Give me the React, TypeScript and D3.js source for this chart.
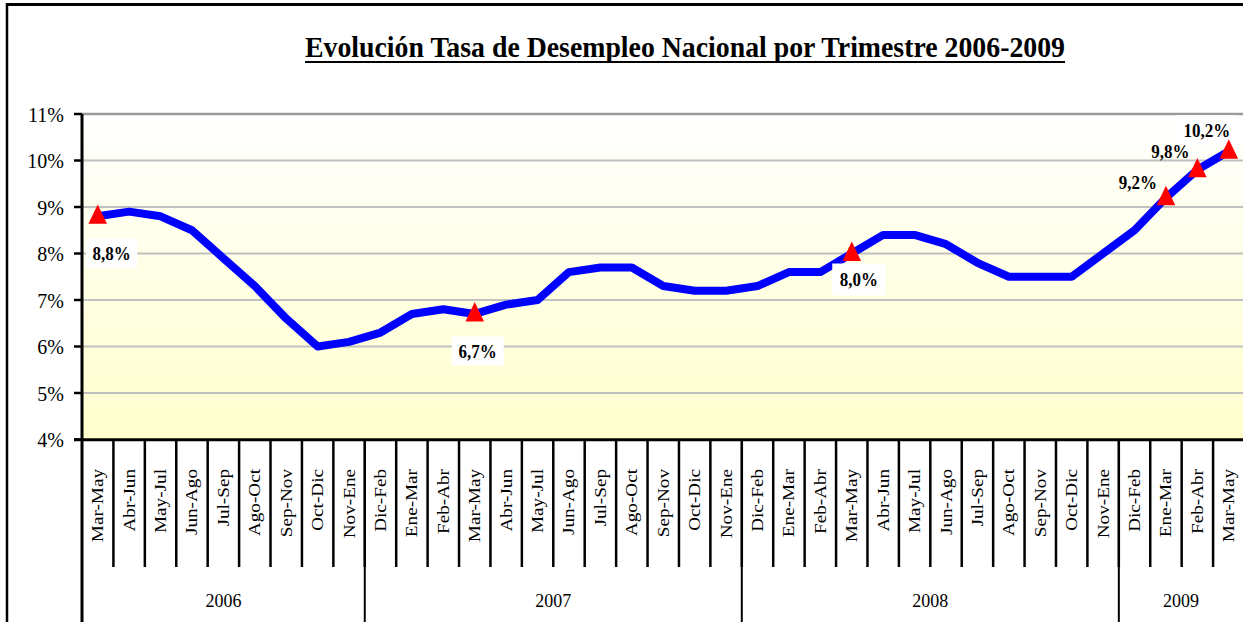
import React from "react";
import * as d3 from "d3";

const categories = [
  "Mar-May", "Abr-Jun", "May-Jul", "Jun-Ago", "Jul-Sep", "Ago-Oct", "Sep-Nov", "Oct-Dic", "Nov-Ene",
  "Dic-Feb", "Ene-Mar", "Feb-Abr", "Mar-May", "Abr-Jun", "May-Jul", "Jun-Ago", "Jul-Sep", "Ago-Oct", "Sep-Nov", "Oct-Dic", "Nov-Ene",
  "Dic-Feb", "Ene-Mar", "Feb-Abr", "Mar-May", "Abr-Jun", "May-Jul", "Jun-Ago", "Jul-Sep", "Ago-Oct", "Sep-Nov", "Oct-Dic", "Nov-Ene",
  "Dic-Feb", "Ene-Mar", "Feb-Abr", "Mar-May",
];
const rates = [
  8.8, 8.9, 8.8, 8.5, 7.9, 7.3, 6.6, 6.0, 6.1,
  6.3, 6.7, 6.8, 6.7, 6.9, 7.0, 7.6, 7.7, 7.7, 7.3, 7.2, 7.2,
  7.3, 7.6, 7.6, 8.0, 8.4, 8.4, 8.2, 7.8, 7.5, 7.5, 7.5, 8.0,
  8.5, 9.2, 9.8, 10.2,
];
const yearLabels = ["2006", "2007", "2008", "2009"];
const yearCounts = [9, 12, 12, 4];
const yTicks = [4, 5, 6, 7, 8, 9, 10, 11];
const markedIdx = [0, 12, 24, 34, 35, 36];
const title = "Evolución Tasa de Desempleo Nacional por Trimestre 2006-2009";

// label placement (styling)
const labelStyle: Record<number, { dx: number; dy: number; box: boolean; bw: number; bh: number }> = {
  0: { dx: 14, dy: 37, box: true, bw: 51, bh: 29 },
  12: { dx: 3, dy: 37, box: true, bw: 52, bh: 29 },
  24: { dx: 7, dy: 26, box: true, bw: 53, bh: 32 },
  34: { dx: -28, dy: -15, box: false, bw: 0, bh: 0 },
  35: { dx: -27, dy: -18, box: false, bw: 0, bh: 0 },
  36: { dx: -22, dy: -21, box: true, bw: 60, bh: 30 },
};

const W = 1243;
const H = 622;
const serif = "'Liberation Serif', 'Times New Roman', serif";

export default function App() {
  const x = d3
    .scaleBand<string>()
    .domain(categories.map((_, i) => String(i)))
    .range([82, 1244.5])
    .padding(0);
  const y = d3.scaleLinear().domain([4, 11]).range([439.5, 114]);
  const cx = (i: number) => (x(String(i)) as number) + x.bandwidth() / 2;

  const line = d3
    .line<number>()
    .x((_, i) => cx(i))
    .y((d) => y(d))
    .curve(d3.curveLinear);

  const tri = d3.symbol().type(d3.symbolTriangle).size(150)();
  const fmt = (v: number) => d3.format(".1f")(v).replace(".", ",") + "%";

  const bounds: number[] = [0];
  yearCounts.forEach((c, i) => bounds.push(bounds[i] + c));
  const left = x.range()[0];
  const plotRight = W;

  return (
    <svg
      width={W}
      height={H}
      style={{ position: "absolute", left: 0, top: 0, background: "#fff" }}
    >
      <defs>
        <linearGradient id="bg" x1="0" y1="0" x2="0" y2="1">
          <stop offset="0%" stopColor="#ffffff" />
          <stop offset="100%" stopColor="#ffffcc" />
        </linearGradient>
      </defs>

      {/* outer frame */}
      <line x1={7} x2={W} y1={4.5} y2={4.5} stroke="#000" strokeWidth={3} />
      <line x1={7} x2={7} y1={3} y2={H} stroke="#000" strokeWidth={2.5} />

      {/* title */}
      <text
        x={305}
        y={57}
        fontFamily={serif}
        fontWeight="bold"
        fontSize={29}
        textLength={760}
        lengthAdjust="spacingAndGlyphs"
        fill="#000"
      >
        {title}
      </text>
      <line x1={305} x2={1065} y1={62} y2={62} stroke="#000" strokeWidth={2} />

      {/* plot background */}
      <rect x={left} y={y(11)} width={plotRight - left} height={y(4) - y(11)} fill="url(#bg)" />

      {/* grid */}
      {yTicks
        .filter((t) => t > 4)
        .map((t) => (
          <line
            key={t}
            x1={left}
            x2={plotRight}
            y1={y(t)}
            y2={y(t)}
            stroke={t === 11 ? "#9a9a9a" : "#c0c0c0"}
            strokeWidth={t === 11 ? 2.5 : 2}
          />
        ))}

      {/* y ticks and labels */}
      {yTicks.map((t) => (
        <g key={t}>
          <line x1={74} x2={82} y1={y(t)} y2={y(t)} stroke="#000" strokeWidth={2.5} />
          <text
            transform={`translate(64,${y(t)}) scale(1,1.1)`}
            dy="0.35em"
            textAnchor="end"
            fontFamily={serif}
            fontSize={20}
            fill="#000"
          >
            {t}%
          </text>
        </g>
      ))}

      {/* category ticks */}
      {categories.map((_, i) =>
        i === 0 ? null : (
          <line
            key={"t" + i}
            x1={x(String(i)) as number}
            x2={x(String(i)) as number}
            y1={439}
            y2={567}
            stroke="#000"
            strokeWidth={2.5}
          />
        )
      )}
      {/* year separators */}
      {bounds.slice(0, -1).map((b, i) => {
        const xb = i === 0 ? left : (x(String(b)) as number);
        return (
          <line key={"y" + i} x1={xb} x2={xb} y1={i === 0 ? y(11) : 439} y2={H} stroke="#000" strokeWidth={i === 0 ? 3 : 2} />
        );
      })}

      {/* x axis line */}
      <line x1={left - 8} x2={plotRight} y1={439.8} y2={439.8} stroke="#000" strokeWidth={3} />

      {/* category labels */}
      {categories.map((c, i) => (
        <text
          key={"c" + i}
          transform={`translate(${cx(i) + 5.5},469) rotate(-90) scale(1.2,1)`}
          textAnchor="end"
          fontFamily={serif}
          fontSize={16}
          fill="#000"
        >
          {c}
        </text>
      ))}

      {/* year labels */}
      {yearLabels.map((yl, i) => {
        const x0 = i === 0 ? left : (x(String(bounds[i])) as number);
        const x1 = bounds[i + 1] >= categories.length ? W : (x(String(bounds[i + 1])) as number);
        return (
          <text
            key={yl}
            transform={`translate(${(x0 + x1) / 2},607) scale(1,1.1)`}
            textAnchor="middle"
            fontFamily={serif}
            fontSize={18}
            fill="#000"
          >
            {yl}
          </text>
        );
      })}

      {/* data line */}
      <path d={line(rates) || ""} fill="none" stroke="#0000ff" strokeWidth={8} strokeLinejoin="round" strokeLinecap="round" />

      {/* data labels */}
      {markedIdx.map((i) => {
        const s = labelStyle[i];
        const tx = cx(i) + s.dx;
        const ty = y(rates[i]) + s.dy;
        return (
          <g key={"l" + i}>
            {s.box && <rect x={tx - s.bw / 2} y={ty - s.bh / 2} width={s.bw} height={s.bh} fill="#fff" />}
            <text
              transform={`translate(${tx},${ty}) scale(1,1.1)`}
              dy="0.35em"
              textAnchor="middle"
              fontFamily={serif}
              fontWeight="bold"
              fontSize={17}
              fill="#000"
            >
              {fmt(rates[i])}
            </text>
          </g>
        );
      })}

      {/* markers */}
      {markedIdx.map((i) => (
        <path
          key={"m" + i}
          d={tri || ""}
          transform={`translate(${cx(i)},${y(rates[i]) + 1}) scale(1,1.2)`}
          fill="#ff0000"
        />
      ))}
    </svg>
  );
}
